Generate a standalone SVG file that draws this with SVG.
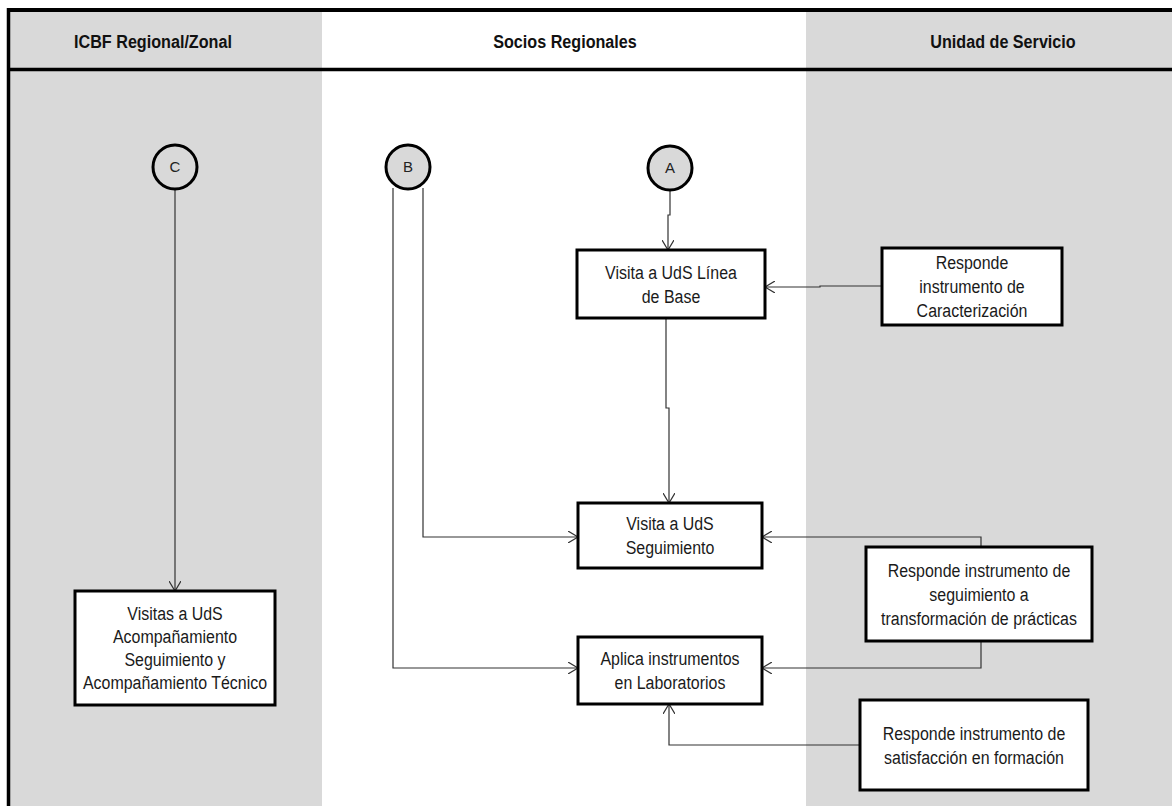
<svg xmlns="http://www.w3.org/2000/svg" width="1172" height="806" viewBox="0 0 1172 806">
<style>
.lane{fill:#d9d9d9}
.hdr{font-family:"Liberation Sans",Arial,sans-serif;font-weight:bold;font-size:19px;fill:#111;text-anchor:middle}
.box{fill:#fff;stroke:#000;stroke-width:3}
.t{font-family:"Liberation Sans",Arial,sans-serif;font-size:19px;fill:#1a1a1a;text-anchor:middle}
.circ{fill:#d9d9d9;stroke:#000;stroke-width:3}
.ct{font-family:"Liberation Sans",Arial,sans-serif;font-size:15px;fill:#222;text-anchor:middle}
.con{fill:none;stroke:#333;stroke-width:1.2}
</style>
<defs>
<marker id="arr" markerWidth="12" markerHeight="12" refX="10" refY="6" orient="auto" markerUnits="userSpaceOnUse">
<path d="M0,0 L10,6 L0,12" fill="none" stroke="#333" stroke-width="1.2"/>
</marker>
</defs>
<rect x="0" y="0" width="1172" height="806" fill="#fff"/>
<rect class="lane" x="8" y="10" width="314" height="796"/>
<rect class="lane" x="806" y="10" width="366" height="796"/>
<line x1="7" y1="10" x2="1172" y2="10" stroke="#000" stroke-width="4"/>
<line x1="7" y1="69.5" x2="1172" y2="69.5" stroke="#000" stroke-width="3.5"/>
<line x1="8.5" y1="8" x2="8.5" y2="806" stroke="#000" stroke-width="3.5"/>
<g transform="translate(153,48) scale(0.85,1)"><text class="hdr" x="0" y="0">ICBF Regional/Zonal</text></g>
<g transform="translate(565,48) scale(0.85,1)"><text class="hdr" x="0" y="0">Socios Regionales</text></g>
<g transform="translate(1003,48) scale(0.85,1)"><text class="hdr" x="0" y="0">Unidad de Servicio</text></g>

<g id="connectors">
<path class="con" d="M670,190 V215 H668 V250" marker-end="url(#arr)"/>
<path class="con" d="M666,318 V408 H669 V503" marker-end="url(#arr)"/>
<path class="con" d="M882,286 H820 V287 H765" marker-end="url(#arr)"/>
<path class="con" d="M393,188 V668 H578" marker-end="url(#arr)"/>
<path class="con" d="M423,188 V537 H578" marker-end="url(#arr)"/>
<path class="con" d="M981,547 V537 H762" marker-end="url(#arr)"/>
<path class="con" d="M981,641 V668 H762" marker-end="url(#arr)"/>
<path class="con" d="M860,745 H669 V704" marker-end="url(#arr)"/>
<path class="con" d="M175,190 V591" marker-end="url(#arr)"/>
</g>

<g id="C"><circle class="circ" cx="175" cy="167" r="22"/><text class="ct" x="175" y="172">C</text></g>
<g id="B"><circle class="circ" cx="408" cy="167" r="22"/><text class="ct" x="408" y="172">B</text></g>
<g id="A"><circle class="circ" cx="670" cy="168" r="22"/><text class="ct" x="670" y="173">A</text></g>

<g id="linea-base"><rect class="box" x="577" y="250" width="188" height="68"/>
<g transform="translate(671,0) scale(0.84,1)"><text class="t" x="0" y="279">Visita a UdS Línea</text><text class="t" x="0" y="303">de Base</text></g></g>

<g id="caracterizacion"><rect class="box" x="882" y="248" width="180" height="77"/>
<g transform="translate(972,0) scale(0.84,1)"><text class="t" x="0" y="269">Responde</text><text class="t" x="0" y="293">instrumento de</text><text class="t" x="0" y="317">Caracterización</text></g></g>

<g id="seguimiento"><rect class="box" x="578" y="503" width="184" height="65"/>
<g transform="translate(670,0) scale(0.84,1)"><text class="t" x="0" y="530">Visita a UdS</text><text class="t" x="0" y="554">Seguimiento</text></g></g>

<g id="transformacion"><rect class="box" x="866" y="547" width="226" height="94"/>
<g transform="translate(979,0) scale(0.84,1)"><text class="t" x="0" y="577">Responde instrumento de</text><text class="t" x="0" y="601">seguimiento a</text><text class="t" x="0" y="625">transformación de prácticas</text></g></g>

<g id="laboratorios"><rect class="box" x="578" y="637" width="184" height="67"/>
<g transform="translate(670,0) scale(0.84,1)"><text class="t" x="0" y="665">Aplica instrumentos</text><text class="t" x="0" y="689">en Laboratorios</text></g></g>

<g id="satisfaccion"><rect class="box" x="860" y="700" width="228" height="90"/>
<g transform="translate(974,0) scale(0.84,1)"><text class="t" x="0" y="740">Responde instrumento de</text><text class="t" x="0" y="764">satisfacción en formación</text></g></g>

<g id="visitas"><rect class="box" x="75" y="591" width="200" height="114"/>
<g transform="translate(175,0) scale(0.84,1)"><text class="t" x="0" y="620">Visitas a UdS</text><text class="t" x="0" y="643">Acompañamiento</text><text class="t" x="0" y="666">Seguimiento y</text><text class="t" x="0" y="689">Acompañamiento Técnico</text></g></g>
</svg>
